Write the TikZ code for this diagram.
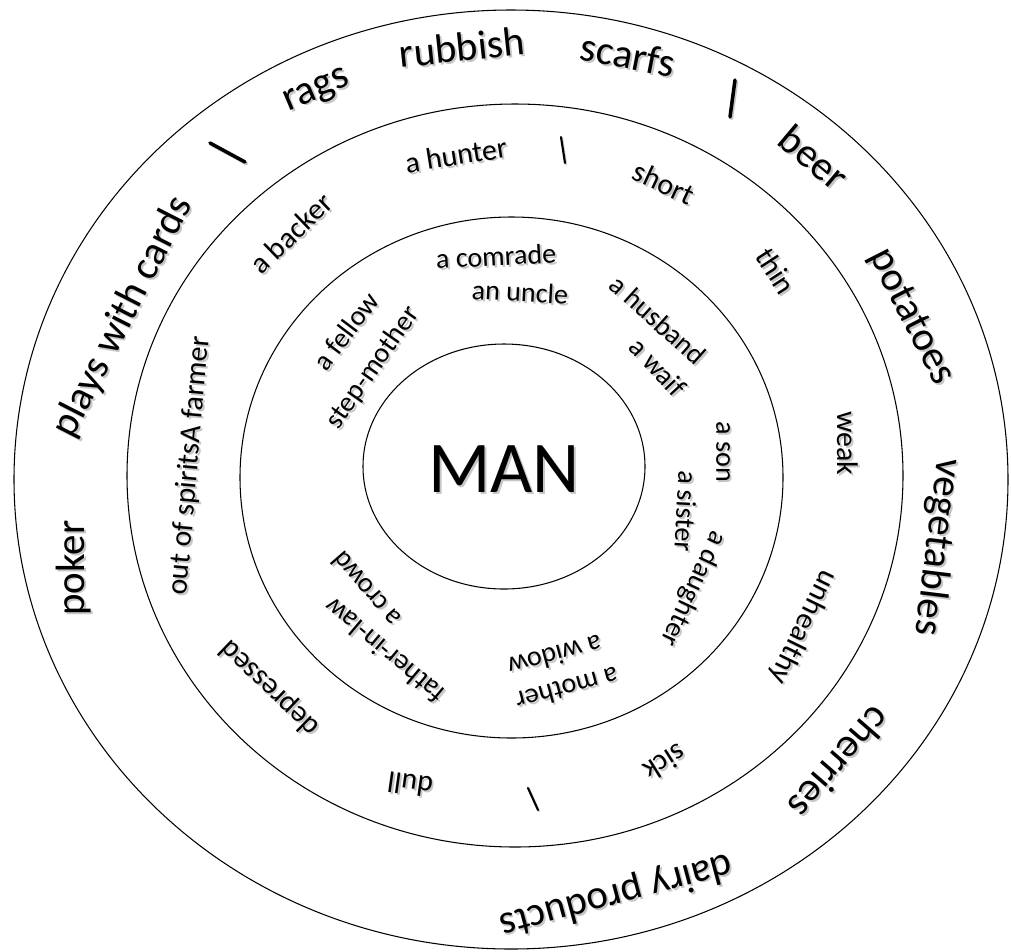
\documentclass[tikz,border=0pt]{standalone}
\usepackage{fontspec}
\setmainfont{Carlito}
\tikzset{
  ring/.style={line width=0.6pt},
  txtO/.style={inner sep=0pt, font=\fontsize{23.3}{28}\selectfont},
  txtM/.style={inner sep=0pt, font=\fontsize{17}{20}\selectfont},
  txtI/.style={inner sep=0pt, font=\fontsize{16}{19}\selectfont},
  shade copy/.style={text=black!22, xshift=1.1pt, yshift=-1.1pt},
  bar/.style={line width=2pt, line cap=round},
  thinbar/.style={line width=1.2pt, line cap=round},
}
% #1 style, #2 name, #3 rotation, #4 position, #5 text (with soft shadow)
\newcommand{\ringword}[5]{%
  \node[#1, shade copy, rotate=#3] (#2-sh) at (#4) {#5};
  \node[#1, rotate=#3] (#2) at (#4) {#5};}
\begin{document}
\begin{tikzpicture}[x=0.02cm, y=-0.02cm]
\fill[white] (0,0) rectangle (1011,951);
\useasboundingbox (0,0) rectangle (1011,951);
% rings
\draw[ring] (511,479.5) ellipse [x radius=497, y radius=469.5];
\draw[ring] (515,475.5) ellipse [x radius=388, y radius=371.5];
\draw[ring] (511.5,477.5) ellipse [x radius=271.5, y radius=260.5];
\draw[ring] (504,466.5) ellipse [x radius=141, y radius=122.5];
% centre
\ringword{inner sep=0pt, font=\fontsize{41.5}{48}\selectfont}{man}{0}{504,469}{MAN}
% outer ring
\ringword{txtO}{plays}{63}{123,317}{plays with cards}
\ringword{txtO}{rags}{23}{317,92}{rags}
\ringword{txtO}{rubbish}{6}{462,47}{rubbish}
\ringword{txtO}{scarfs}{-11}{628,55}{scarfs}
\ringword{txtO}{beer}{-40}{814,157}{beer}
\ringword{txtO}{potatoes}{-63}{911,317}{potatoes}
\ringword{txtO}{vegetables}{-97}{937,547}{vegetables}
\ringword{txtO}{cherries}{-131}{840,763}{cherries}
\ringword{txtO}{dairy}{-165}{616,895}{dairy products}
\ringword{txtO}{poker}{90}{74,568}{poker}
\draw[bar, black!22] (211.5,144.5) -- (246.5,163.5);
\draw[bar] (210,143) -- (245,162);
\draw[bar, black!22] (736.5,81.5) -- (731.5,118.5);
\draw[bar] (735,80) -- (730,117);
% middle ring
\ringword{txtM}{backer}{44}{291,233}{a backer}
\ringword{txtM}{hunter}{9}{456,155}{a hunter}
\ringword{txtM}{short}{-25}{664,183}{short}
\ringword{txtM}{thin}{-57}{776,271}{thin}
\ringword{txtM}{weak}{-90}{848,443}{weak}
\ringword{txtM}{unhealthy}{-116}{803,627}{unhealthy}
\ringword{txtM}{sick}{-148}{665,763}{sick}
\ringword{txtM}{dull}{172}{410,785}{dull}
\ringword{txtM}{depressed}{136}{270,688}{depressed}
\ringword{txtM}{spirits}{85}{190,466}{out of spiritsA farmer}
\draw[thinbar, black!22] (562,138) -- (566,164);
\draw[thinbar] (561,137) -- (565,163);
\draw[thinbar, black!22] (529,789) -- (539,811);
\draw[thinbar] (528,788) -- (538,810);
% inner ring
\ringword{txtI}{comrade}{3}{496,256}{a comrade}
\ringword{txtI}{uncle}{-3}{520,292}{an uncle}
\ringword{txtI}{husband}{-42}{658,320}{a husband}
\ringword{txtI}{waif}{-47}{658,367}{a waif}
\ringword{txtI}{son}{-90}{723,452}{a son}
\ringword{txtI}{sister}{-93}{686,511}{a sister}
\ringword{txtI}{daughter}{-115}{693,589}{a daughter}
\ringword{txtI}{widow}{-165}{555,656}{a widow}
\ringword{txtI}{mother}{-165}{567,689}{a mother}
\ringword{txtI}{father}{140}{384,651}{father-in-law}
\ringword{txtI}{crowd}{131}{366,590}{a crowd}
\ringword{txtI}{fellow}{53}{346,331}{a fellow}
\ringword{txtI}{stepmother}{55}{373,368}{step-mother}
\end{tikzpicture}
\end{document}
